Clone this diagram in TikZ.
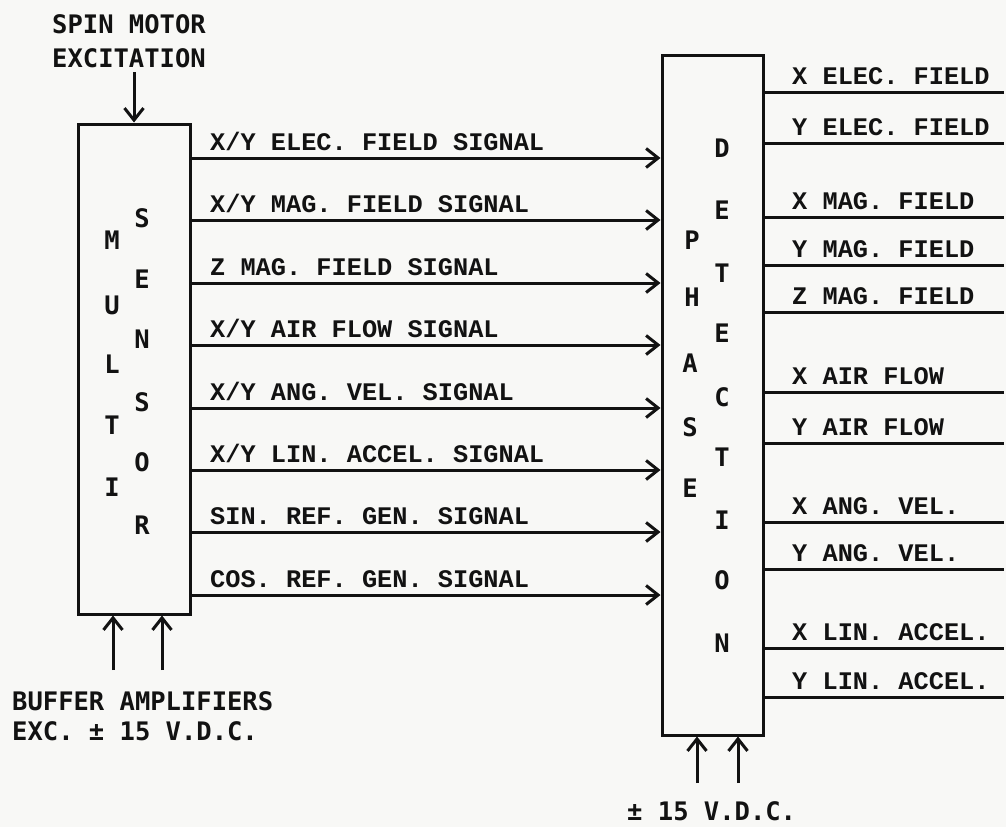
\documentclass[tikz,border=0pt]{standalone}
\usepackage{fontspec}
\usetikzlibrary{arrows.meta,calc}
\newfontfamily\twfont{Liberation Mono}
\newfontfamily\gtfont{DejaVu Sans Mono}
\definecolor{ink}{RGB}{18,18,18}
\definecolor{paper}{RGB}{248,248,246}
\begin{document}
\begin{tikzpicture}[x=1pt,y=-1pt,
  ln/.style={draw=ink,line width=3pt},
  box/.style={ln,rectangle,inner sep=0pt},
  arr/.style={ln,-{Straight Barb[length=12pt,width=19pt,line width=3pt]}},
  lab/.style={text=ink,font=\twfont\bfseries\fontsize{25.3}{26}\selectfont,anchor=base west,inner sep=0pt},
  gt/.style={text=ink,font=\gtfont\bfseries\fontsize{25.5}{26}\selectfont,inner sep=0pt},
  gtl/.style={gt,anchor=base west}]
\fill[paper] (0,0) rectangle (1006,827);
\useasboundingbox (0,0) rectangle (1006,827);

% boxes
\node[box,minimum width=112pt,minimum height=490pt] (ms) at (134,369) {};
\node[box,minimum width=101pt,minimum height=680pt] (pd) at (712.5,395) {};

% MULTI SENSOR letters
\node[gt] (msS1) at (142,218) {S};
\node[gt] (msE)  at (142,279) {E};
\node[gt] (msN)  at (142,339) {N};
\node[gt] (msS2) at (142,402) {S};
\node[gt] (msO)  at (142,462) {O};
\node[gt] (msR)  at (142,525) {R};
\node[gt] (msM)  at (112,240) {M};
\node[gt] (msU)  at (112,305) {U};
\node[gt] (msL)  at (112,364) {L};
\node[gt] (msT)  at (112,425) {T};
\node[gt] (msI)  at (112,487) {I};

% PHASE DETECTION letters
\node[gt] (pdD)  at (722,148) {D};
\node[gt] (pdE1) at (722,210) {E};
\node[gt] (pdT1) at (722,273) {T};
\node[gt] (pdE2) at (722,333) {E};
\node[gt] (pdC)  at (722,397) {C};
\node[gt] (pdT2) at (722,457) {T};
\node[gt] (pdI)  at (722,520) {I};
\node[gt] (pdO)  at (722,580) {O};
\node[gt] (pdN)  at (722,643) {N};
\node[gt] (pdP)  at (692,240) {P};
\node[gt] (pdH)  at (692,297) {H};
\node[gt] (pdA)  at (690,363) {A};
\node[gt] (pdS)  at (690,427) {S};
\node[gt] (pdE3) at (690,488) {E};

% top input
\node[gtl] (spin1) at (52,33) {SPIN MOTOR};
\node[gtl] (spin2) at (52,67) {EXCITATION};
\coordinate (sx) at (134,72);
\draw[arr] (sx) -- (ms.north);

% signal lines
\draw[arr] (ms.east |- 0,158) -- (pd.west |- 0,158);
\draw[arr] (ms.east |- 0,220) -- (pd.west |- 0,220);
\draw[arr] (ms.east |- 0,283) -- (pd.west |- 0,283);
\draw[arr] (ms.east |- 0,345) -- (pd.west |- 0,345);
\draw[arr] (ms.east |- 0,408) -- (pd.west |- 0,408);
\draw[arr] (ms.east |- 0,470) -- (pd.west |- 0,470);
\draw[arr] (ms.east |- 0,532) -- (pd.west |- 0,532);
\draw[arr] (ms.east |- 0,595) -- (pd.west |- 0,595);
\node[lab] (in1) at (210,150) {X/Y ELEC. FIELD SIGNAL};
\node[lab] (in2) at (210,212) {X/Y MAG. FIELD SIGNAL};
\node[lab] (in3) at (210,275) {Z MAG. FIELD SIGNAL};
\node[lab] (in4) at (210,337) {X/Y AIR FLOW SIGNAL};
\node[lab] (in5) at (210,400) {X/Y ANG. VEL. SIGNAL};
\node[lab] (in6) at (210,462) {X/Y LIN. ACCEL. SIGNAL};
\node[lab] (in7) at (210,524) {SIN. REF. GEN. SIGNAL};
\node[lab] (in8) at (210,587) {COS. REF. GEN. SIGNAL};

% outputs
\foreach \y [count=\i] in {92,143,217,265,312,392,443,522,569,648,697}
  {\coordinate (o\i) at (1004,\y);
   \draw[ln] (pd.east |- o\i) -- (o\i);}
\node[lab] (out1)  at (792,84)  {X ELEC. FIELD};
\node[lab] (out2)  at (792,135) {Y ELEC. FIELD};
\node[lab] (out3)  at (792,209) {X MAG. FIELD};
\node[lab] (out4)  at (792,257) {Y MAG. FIELD};
\node[lab] (out5)  at (792,304) {Z MAG. FIELD};
\node[lab] (out6)  at (792,384) {X AIR FLOW};
\node[lab] (out7)  at (792,435) {Y AIR FLOW};
\node[lab] (out8)  at (792,514) {X ANG. VEL.};
\node[lab] (out9)  at (792,561) {Y ANG. VEL.};
\node[lab] (out10) at (792,640) {X LIN. ACCEL.};
\node[lab] (out11) at (792,689) {Y LIN. ACCEL.};

% bottom inputs left
\coordinate (b1) at (113,670);
\coordinate (b2) at (162,670);
\draw[arr] (b1) -- (b1 |- ms.south);
\draw[arr] (b2) -- (b2 |- ms.south);
\node[gtl] (buf1) at (12,710) {BUFFER AMPLIFIERS};
\node[gtl] (buf2) at (12,740) {EXC. ± 15 V.D.C.};

% bottom inputs right
\coordinate (c1) at (697,783);
\coordinate (c2) at (738,783);
\draw[arr] (c1) -- (c1 |- pd.south);
\draw[arr] (c2) -- (c2 |- pd.south);
\node[gtl] (vdc) at (627,820) {± 15 V.D.C.};
\end{tikzpicture}
\end{document}
